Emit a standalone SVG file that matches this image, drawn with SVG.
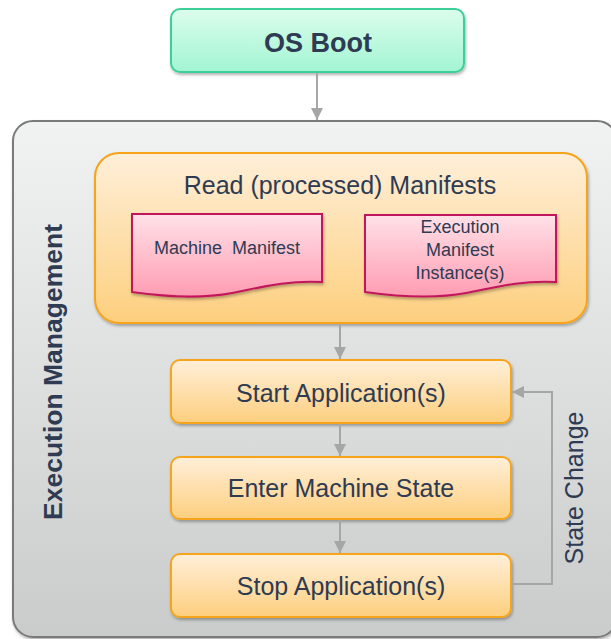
<svg xmlns="http://www.w3.org/2000/svg" width="611" height="639" viewBox="0 0 611 639">
<defs>
<linearGradient id="gGray" x1="0" y1="0" x2="0" y2="1"><stop offset="0" stop-color="#f1f2f2"/><stop offset="1" stop-color="#cacbcb"/></linearGradient>
<linearGradient id="gGreen" x1="0" y1="0" x2="0" y2="1"><stop offset="0" stop-color="#dcfdec"/><stop offset="1" stop-color="#a2f5d3"/></linearGradient>
<linearGradient id="gOrange" x1="0" y1="0" x2="0" y2="1"><stop offset="0" stop-color="#ffefd9"/><stop offset="1" stop-color="#fdcf7e"/></linearGradient>
<linearGradient id="gPink" x1="0" y1="0" x2="0" y2="1"><stop offset="0" stop-color="#ffe1e8"/><stop offset="1" stop-color="#ff9cb2"/></linearGradient>
<filter id="sh" x="-10%" y="-10%" width="120%" height="130%"><feDropShadow dx="1" dy="2" stdDeviation="1.5" flood-color="#000" flood-opacity="0.3"/></filter>
<marker id="arr" viewBox="0 0 10 10" refX="10" refY="5" markerWidth="12" markerHeight="12" markerUnits="userSpaceOnUse" orient="auto"><path d="M0,0 L10,5 L0,10 Z" fill="#a6a6a6"/></marker>
</defs>
<style>
.orange{fill:url(#gOrange);stroke:#f5a41c;stroke-width:2}
.doc{fill:url(#gPink);stroke:#c2185b;stroke-width:2}
.t{font-family:"Liberation Sans",Arial,sans-serif;fill:#2e3b52;text-anchor:middle}
.conn{stroke:#a6a6a6;stroke-width:2;fill:none}
</style>
<g id="execution-management">
<rect x="13" y="121" width="604" height="516" rx="20" fill="url(#gGray)" stroke="#7a7a7a" stroke-width="2" filter="url(#sh)"/>
<text class="t" transform="translate(62,372) rotate(-90)" font-size="26.500" font-weight="bold">Execution Management</text>
</g>
<g id="os-boot">
<rect x="171" y="9" width="293" height="63" rx="9" fill="url(#gGreen)" stroke="#3dcf99" stroke-width="2" filter="url(#sh)"/>
<text class="t" x="318" y="52" font-size="27" font-weight="bold">OS Boot</text>
</g>
<g id="read-manifests">
<rect x="95" y="153" width="492" height="170" rx="24" class="orange" filter="url(#sh)"/>
<text class="t" x="340" y="194" font-size="25" fill="#34445c">Read (processed) Manifests</text>
</g>
<g id="machine-manifest">
<path class="doc" filter="url(#sh)" d="M132,214 H322 V282 C285,280 258,288 232,293 C200,299 168,297 132,292 Z"/>
<text class="t" x="227" y="254" font-size="18" xml:space="preserve">Machine  Manifest</text>
</g>
<g id="execution-manifest">
<path class="doc" filter="url(#sh)" d="M365,215 H556 V282 C519,280 492,288 466,293 C434,299 401,297 365,292 Z"/>
<text class="t" x="460" y="233" font-size="18">Execution</text>
<text class="t" x="460" y="256" font-size="18">Manifest</text>
<text class="t" x="460" y="279" font-size="18">Instance(s)</text>
</g>
<g id="start-application">
<rect x="171" y="360" width="340" height="63" rx="9" class="orange" filter="url(#sh)"/>
<text class="t" x="341" y="402" font-size="25">Start Application(s)</text>
</g>
<g id="enter-machine-state">
<rect x="171" y="457" width="340" height="62" rx="9" class="orange" filter="url(#sh)"/>
<text class="t" x="341" y="497" font-size="25">Enter Machine State</text>
</g>
<g id="stop-application">
<rect x="171" y="554" width="340" height="63" rx="9" class="orange" filter="url(#sh)"/>
<text class="t" x="341" y="595" font-size="25">Stop Application(s)</text>
</g>
<g id="connectors">
<line class="conn" x1="317" y1="73" x2="317" y2="120" marker-end="url(#arr)"/>
<line class="conn" x1="340" y1="324" x2="340" y2="359" marker-end="url(#arr)"/>
<line class="conn" x1="340" y1="424" x2="340" y2="456" marker-end="url(#arr)"/>
<line class="conn" x1="340" y1="520" x2="340" y2="553" marker-end="url(#arr)"/>
<polyline class="conn" points="512,584 552,584 552,392 512,392" marker-end="url(#arr)"/>
<text class="t" transform="translate(583,488) rotate(-90)" font-size="25" fill="#34445c">State Change</text>
</g>
</svg>
